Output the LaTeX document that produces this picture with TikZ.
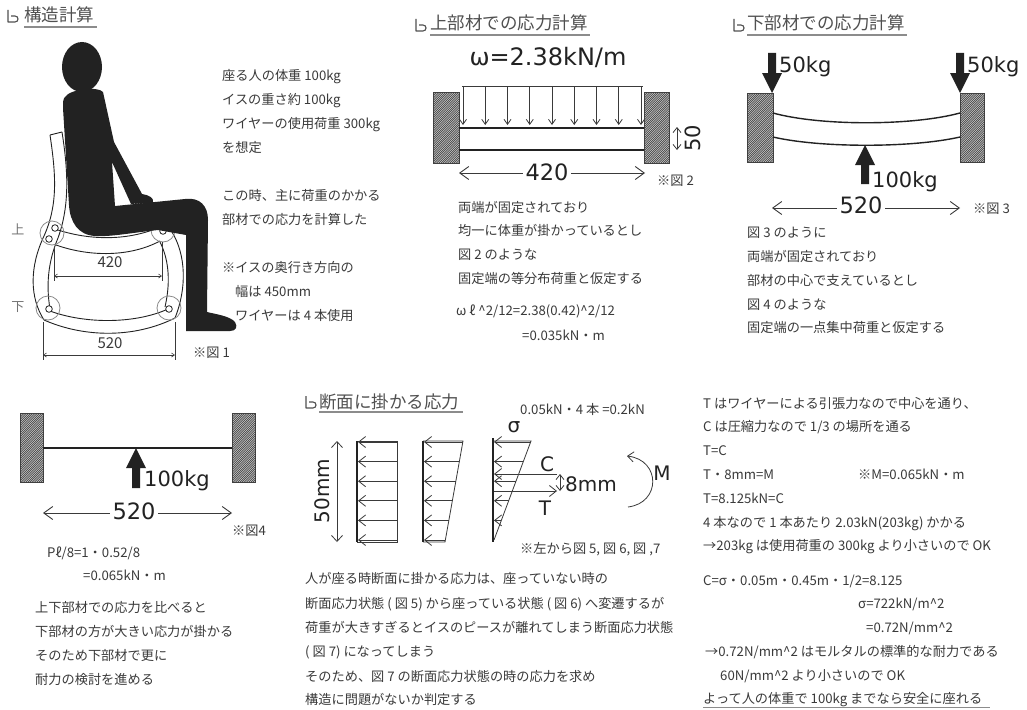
\documentclass[tikz,border=0pt]{standalone}
\usepackage{fontspec}
\setmainfont{Noto Sans CJK JP}
\newfontfamily\dv{DejaVu Sans}
\usetikzlibrary{arrows.meta}
\definecolor{ink}{HTML}{3A3A3A}
\definecolor{headc}{HTML}{505050}
\definecolor{rulec}{HTML}{8C8C8C}
\definecolor{lbl}{HTML}{222222}
\definecolor{jointc}{HTML}{8A8A8A}
\newcommand\caret{\textasciicircum}
% hatched fixed wall between (x1,y1) and (x2,y2)
\newcommand\hatchwall[4]{%
  \begin{scope}
    \fill[black!18] (#1,#2) rectangle (#3,#4);
    \clip (#1,#2) rectangle (#3,#4);
    \foreach \k in {-80,-77.8,...,30}{\draw[hatchline] (#1+\k,#4) -- ++(80,-80);}
  \end{scope}
  \draw[wallline] (#1,#2) rectangle (#3,#4);}
% solid block arrows: tip x, tip y, length
\newcommand\dnarblk[3]{\fill[lbl] (#1-4,#2-#3) -- (#1+4,#2-#3) -- (#1+4,#2-20) -- (#1+10,#2-20) -- (#1,#2) -- (#1-10,#2-20) -- (#1-4,#2-20) -- cycle;}
\newcommand\upblk[3]{\fill[lbl] (#1-4,#2+#3) -- (#1+4,#2+#3) -- (#1+4,#2+20) -- (#1+10,#2+20) -- (#1,#2) -- (#1-10,#2+20) -- (#1-4,#2+20) -- cycle;}
% heading marker: left x, baseline y
\newcommand\hicon[2]{\draw[iconline] (#1+1,#2-12) -- (#1+1,#2) -- (#1+8,#2) .. controls (#1+12,#2) and (#1+12,#2-6) .. (#1+8,#2-6) -- (#1+4,#2-6);}
\begin{document}
\begin{tikzpicture}[x=1pt,y=-1pt,
  txt/.style={anchor=base west,inner sep=0pt,text=ink,font=\fontsize{13.2}{16}\selectfont},
  hd/.style={anchor=base west,inner sep=0pt,text=headc,font=\fontsize{17.5}{20}\selectfont},
  big/.style={inner sep=0pt,text=lbl,font=\dv\fontsize{22.5}{26}\selectfont},
  mid/.style={inner sep=0pt,text=lbl,font=\dv\fontsize{21}{24}\selectfont},
  small/.style={inner sep=0pt,text=ink,font=\fontsize{15}{18}\selectfont},
  hrule/.style={draw=rulec,line width=1.2pt},
  iconline/.style={draw=headc,line width=1.1pt,line join=round},
  hatchline/.style={draw=black!72,line width=0.7pt},
  wallline/.style={draw=black!75,line width=0.8pt},
  beam/.style={draw=lbl,line width=1.6pt},
  thin/.style={draw=ink,line width=0.8pt},
  dimline/.style={draw=ink,line width=0.9pt,{Straight Barb[length=9pt,width=13pt]}-{Straight Barb[length=9pt,width=13pt]}},
  load/.style={draw=ink,line width=0.8pt,-{Straight Barb[length=5pt,width=7pt]}},
  sarrow/.style={draw=ink,line width=0.8pt,-{Straight Barb[length=7pt,width=11pt]}},
  twohead/.style={draw=ink,line width=0.8pt,{Straight Barb[length=5pt,width=8pt]}-{Straight Barb[length=5pt,width=8pt]}},
  chair/.style={draw=lbl,line width=0.9pt},
  joint/.style={draw=jointc,line width=0.8pt},
  pin/.style={draw=lbl,line width=0.8pt,fill=white},
  tick/.style={draw=ink,line width=0.6pt},
  thick/.style={draw=lbl,line width=2.6pt}]
\useasboundingbox[fill=white] (0,0) rectangle (1027,709);

%% ---------------- structure calculation: chair and sitter ----------------
\hicon{7}{22}
\node[hd] (h1) at (24,22) {構造計算};
\draw[hrule] (24,27) -- (97,27);

% chair frame
\begin{scope}
\draw[chair] (62,132) -- (50,135);
\draw[chair] (50,135) .. controls (56,175) and (58,205) .. (44,236) .. controls (29,268) and (30,298) .. (44,320);
\draw[chair] (62,132) .. controls (68,170) and (70,205) .. (58,238) .. controls (48,262) and (46,285) .. (50,309);
\draw[chair] (172,232) .. controls (186,255) and (187,288) .. (175,318);
\draw[chair] (160,242) .. controls (170,262) and (170,285) .. (165,307);
\draw[chair] (55,229) .. controls (90,241) and (130,241) .. (162,226);
\draw[chair] (56,245) .. controls (90,257) and (130,257) .. (160,241);
\draw[chair] (50,311) .. controls (85,324) and (135,324) .. (168,309);
\draw[chair] (44,320) .. controls (85,338) and (135,338) .. (175,318);
\end{scope}
% joints
\draw[joint] (52,233) circle[radius=12];
\draw[joint] (163,230) circle[radius=12];
\draw[joint] (48,308) circle[radius=12];
\draw[joint] (169,308) circle[radius=12];
\draw[pin] (55,228) circle[radius=3.3];
\draw[pin] (49,239) circle[radius=3.3];
\draw[pin] (163,231) circle[radius=3.3];
\draw[pin] (49,309) circle[radius=3.3];
\draw[pin] (169,309) circle[radius=3.3];

% sitter silhouette
\fill[lbl] (82,67) ellipse [x radius=20, y radius=25];
\fill[lbl] (65,97) .. controls (70,89) and (98,86) .. (103,92)
  -- (114,142) -- (142,194)
  .. controls (149,195) and (154,198) .. (153,202)
  -- (131,204) -- (112,162) -- (115,206) -- (185,199)
  .. controls (200,197) and (208,206) .. (208,220)
  -- (207,312)
  .. controls (215,314) and (230,316) .. (235,322)
  .. controls (238,327) and (236,331) .. (230,331)
  -- (186,331) -- (186,235) -- (158,230)
  .. controls (130,233) and (110,237) .. (95,236)
  .. controls (78,235) and (70,222) .. (69,205)
  -- (63,108) .. controls (63,102) and (63,99) .. (65,97) -- cycle;

% chair dimensions
\coordinate (a1) at (54,276); \coordinate (a2) at (162,276);
\coordinate (b1) at (43,355); \coordinate (b2) at (175,355);
\draw[tick] (54,247) -- (54,281);
\draw[tick] (162,242) -- (162,281);
\draw[tick] (43,322) -- (43,360);
\draw[tick] (175,322) -- (175,360);
\draw[tick,{Straight Barb[length=3pt,width=4pt]}-{Straight Barb[length=3pt,width=4pt]}] (a1) -- (a2);
\draw[tick,{Straight Barb[length=3pt,width=4pt]}-{Straight Barb[length=3pt,width=4pt]}] (b1) -- (b2);
\node[small] (c420) at (110,262) {420};
\node[small] (c520) at (110,343) {520};
\node[inner sep=0pt,text=black!55,font=\fontsize{13}{15}\selectfont] (up) at (18,229) {上};
\node[inner sep=0pt,text=black!55,font=\fontsize{13}{15}\selectfont] (lo) at (18,307) {下};
\node[txt] (f1) at (193,357) {※図 1};

\node[txt] (t11) at (222,80) {座る人の体重 100kg};
\node[txt] (t12) at (222,104) {イスの重さ約 100kg};
\node[txt] (t13) at (222,128) {ワイヤーの使用荷重 300kg};
\node[txt] (t14) at (222,152) {を想定};
\node[txt] (t15) at (222,200) {この時、主に荷重のかかる};
\node[txt] (t16) at (222,224) {部材での応力を計算した};
\node[txt] (t17) at (222,272) {※イスの奥行き方向の};
\node[txt] (t18) at (235,296) {幅は 450mm};
\node[txt] (t19) at (235,320) {ワイヤーは 4 本使用};

%% ---------------- upper member ----------------
\hicon{415}{31}
\node[hd] (h2) at (430,30) {上部材での応力計算};
\draw[hrule] (430,35) -- (590,35);
\node[big,font=\dv\fontsize{24}{28}\selectfont] (w) at (548,57) {ω=2.38kN/m};
\hatchwall{433}{92}{459}{163}
\hatchwall{644}{92}{669}{163}
\draw[beam] (459,128) -- (644,128);
\draw[beam] (459,150) -- (644,150);
\coordinate (q0) at (462,86); \coordinate (q1) at (643,86);
\draw[thin] (q0) -- (q1);
\foreach \i in {0,...,8}{\draw[load] (463+22.25*\i,86) -- (463+22.25*\i,125);}
\coordinate (h50a) at (677,127); \coordinate (h50b) at (677,150);
\draw[twohead] (h50a) -- (h50b);
\node[mid,rotate=90] (d50) at (693,138) {50};
\coordinate (s1) at (459,173); \coordinate (s2) at (645,173);
\draw[dimline] (s1) -- (s2);
\node[big,fill=white,inner xsep=3pt] (d420) at (547,172) {420};
\node[txt] (f2) at (657,185) {※図 2};
\node[txt] (t21) at (458,212) {両端が固定されており};
\node[txt] (t22) at (458,235) {均一に体重が掛かっているとし};
\node[txt] (t23) at (458,259) {図 2 のような};
\node[txt] (t24) at (458,283) {固定端の等分布荷重と仮定する};
\node[txt] (t25) at (456,315) {ω ℓ \caret2/12=2.38(0.42)\caret2/12};
\node[txt] (t26) at (522,340) {=0.035kN・m};

%% ---------------- lower member ----------------
\hicon{733}{31}
\node[hd] (h3) at (747,30) {下部材での応力計算};
\draw[hrule] (747,35) -- (907,35);
\hatchwall{747}{93}{773}{162}
\hatchwall{960}{93}{984}{162}
\draw[beam,line width=1.4pt] (773,113) .. controls (820,126) and (912,126) .. (960,113);
\draw[beam,line width=1.4pt] (773,137) .. controls (820,148) and (912,148) .. (960,137);
\dnarblk{772}{93}{40}
\dnarblk{960}{93}{40}
\upblk{865}{145}{39}
\node[mid,anchor=base west] (k1) at (779,73) {50kg};
\node[mid,anchor=base west] (k2) at (967,73) {50kg};
\node[mid,anchor=base west] (k3) at (872,187) {100kg};
\coordinate (s3) at (772,208); \coordinate (s4) at (960,208);
\draw[dimline] (s3) -- (s4);
\node[big,fill=white,inner xsep=3pt] (d520a) at (861,205) {520};
\node[txt] (f3) at (973,213) {※図 3};
\node[txt] (t31) at (747,237) {図 3 のように};
\node[txt] (t32) at (747,261) {両端が固定されており};
\node[txt] (t33) at (747,285) {部材の中心で支えているとし};
\node[txt] (t34) at (747,309) {図 4 のような};
\node[txt] (t35) at (747,332) {固定端の一点集中荷重と仮定する};

%% ---------------- point load model ----------------
\hatchwall{20}{413}{43}{482}
\hatchwall{232}{413}{255}{482}
\draw[beam,line width=1.4pt] (43,448) -- (232,448);
\upblk{136}{448}{40}
\node[mid,anchor=base west] (k4) at (144,486) {100kg};
\coordinate (s5) at (43,513); \coordinate (s6) at (232,513);
\draw[dimline] (s5) -- (s6);
\node[big,fill=white,inner xsep=3pt] (d520b) at (134,511) {520};
\node[txt] (f4) at (232,535) {※図4};
\node[txt] (t41) at (47,557) {Pℓ/8=1・0.52/8};
\node[txt] (t42) at (83,580) {=0.065kN・m};
\node[txt] (t43) at (35,612) {上下部材での応力を比べると};
\node[txt] (t44) at (35,636) {下部材の方が大きい応力が掛かる};
\node[txt] (t45) at (35,660) {そのため下部材で更に};
\node[txt] (t46) at (35,684) {耐力の検討を進める};

%% ---------------- section stresses ----------------
\hicon{305}{408}
\node[hd] (h4) at (319,408) {断面に掛かる応力};
\draw[hrule] (319,412) -- (463,412);
\node[txt] (t50) at (520,414) {0.05kN・4 本 =0.2kN};

% uniform state
\draw[thin] (357,441) -- (397,441) -- (397,542) -- (357,542);
\foreach \y in {442,461.6,481.2,500.8,520.4,540}{\draw[sarrow] (397,\y) -- (358,\y);}
\draw[thick] (357,441) -- (357,542);
\coordinate (m1) at (337,441); \coordinate (m2) at (337,542);
\draw[twohead,{Straight Barb[length=6pt,width=11pt]}-{Straight Barb[length=6pt,width=11pt]}] (m1) -- (m2);
\node[mid,font=\dv\fontsize{20}{24}\selectfont,rotate=90] (d50mm) at (322,491) {50mm};

% trapezoid state
\draw[thin] (423,441) -- (463,441) -- (445,542) -- (423,542);
\foreach \y in {442,461.6,481.2,500.8,520.4,540}{\draw[sarrow] ({463-(\y-441)*18/101},\y) -- (424,\y);}
\draw[thick] (423,441) -- (423,542);

% triangle state
\draw[thin] (493,441) -- (531,441) -- (494,540);
\foreach \y in {442,461.6,481.2,500.8,520.4}{\draw[sarrow] ({531-(\y-441)*37/99},\y) -- (494,\y);}
\coordinate (cc) at (557,474); \coordinate (tt) at (557,491);
\draw[sarrow] (cc) -- (494,474);
\draw[sarrow] (494,491) -- (tt);
\draw[thick] (493,438) -- (493,542);
\draw[twohead] (560,474) -- (560,491);
\node[mid,font=\dv\fontsize{20}{24}\selectfont] (sg) at (514,427) {σ};
\node[mid,font=\dv\fontsize{20}{24}\selectfont] (cl) at (547,464) {C};
\node[mid,font=\dv\fontsize{20}{24}\selectfont] (tl) at (545,508) {T};
\node[mid,font=\dv\fontsize{20}{24}\selectfont,anchor=west] (d8) at (565,484) {8mm};
\coordinate (mt) at (627,456); \coordinate (mb) at (628,507);
\draw[sarrow,{Straight Barb[length=6pt,width=10pt]}-] (mt) .. controls (661,460) and (661,503) .. (mb);
\node[mid,font=\dv\fontsize{20}{24}\selectfont] (ml) at (662,473) {M};
\node[txt] (f5) at (520,553) {※左から図 5, 図 6, 図 ,7};

\node[txt] (t51) at (305,583) {人が座る時断面に掛かる応力は、座っていない時の};
\node[txt] (t52) at (305,608) {断面応力状態 ( 図 5) から座っている状態 ( 図 6) へ変遷するが};
\node[txt] (t53) at (305,632) {荷重が大きすぎるとイスのピースが離れてしまう断面応力状態};
\node[txt] (t54) at (305,656) {( 図 7) になってしまう};
\node[txt] (t55) at (305,681) {そのため、図 7 の断面応力状態の時の応力を求め};
\node[txt] (t56) at (305,704) {構造に問題がないか判定する};

%% ---------------- wire and mortar check ----------------
\node[txt] (r1) at (703,408) {T はワイヤーによる引張力なので中心を通り、};
\node[txt] (r2) at (703,431) {C は圧縮力なので 1/3 の場所を通る};
\node[txt] (r3) at (703,455) {T=C};
\node[txt] (r4) at (703,479) {T・8mm=M};
\node[txt] (r4b) at (858,479) {※M=0.065kN・m};
\node[txt] (r5) at (703,503) {T=8.125kN=C};
\node[txt] (r6) at (703,527) {4 本なので 1 本あたり 2.03kN(203kg) かかる};
\node[txt] (r7) at (703,550) {→203kg は使用荷重の 300kg より小さいので OK};
\node[txt] (r8) at (703,585) {C=σ・0.05m・0.45m・1/2=8.125};
\node[txt] (r9) at (858,608) {σ=722kN/m\caret2};
\node[txt] (r10) at (866,632) {=0.72N/mm\caret2};
\node[txt] (r11) at (705,656) {→0.72N/mm\caret2 はモルタルの標準的な耐力である};
\node[txt] (r12) at (720,680) {60N/mm\caret2 より小さいので OK};
\node[txt] (r13) at (703,703) {よって人の体重で 100kg までなら安全に座れる};
\draw[hrule,line width=1pt] (703,707.5) -- (990,707.5);
\end{tikzpicture}
\end{document}
